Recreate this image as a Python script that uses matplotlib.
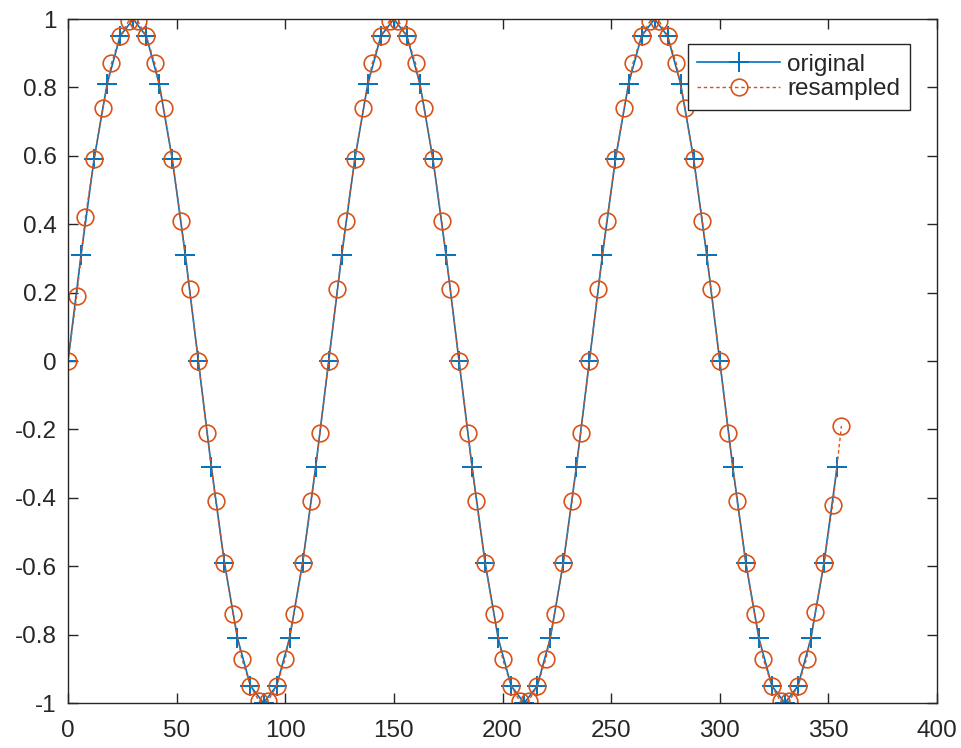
import matplotlib
matplotlib.use("Agg")
import matplotlib.pyplot as plt

plt.rcParams['font.family'] = ['Liberation Sans', 'DejaVu Sans']

# original samples (every 6 units)
x_orig = [0, 6, 12, 18, 24, 30, 36, 42, 48, 54, 60, 66, 72, 78, 84, 90, 96, 102, 108, 114,
          120, 126, 132, 138, 144, 150, 156, 162, 168, 174, 180, 186, 192, 198, 204, 210, 216, 222, 228, 234,
          240, 246, 252, 258, 264, 270, 276, 282, 288, 294, 300, 306, 312, 318, 324, 330, 336, 342, 348, 354]
y_orig = [0, 0.31, 0.59, 0.81, 0.95, 1.0, 0.95, 0.81, 0.59, 0.31,
          0, -0.31, -0.59, -0.81, -0.95, -1.0, -0.95, -0.81, -0.59, -0.31,
          0, 0.31, 0.59, 0.81, 0.95, 1.0, 0.95, 0.81, 0.59, 0.31,
          0, -0.31, -0.59, -0.81, -0.95, -1.0, -0.95, -0.81, -0.59, -0.31,
          0, 0.31, 0.59, 0.81, 0.95, 1.0, 0.95, 0.81, 0.59, 0.31,
          0, -0.31, -0.59, -0.81, -0.95, -1.0, -0.95, -0.81, -0.59, -0.31]

# resampled (every 4 units)
x_res = [0, 4, 8, 12, 16, 20, 24, 28, 32, 36, 40, 44, 48, 52, 56, 60, 64, 68, 72, 76,
         80, 84, 88, 92, 96, 100, 104, 108, 112, 116, 120, 124, 128, 132, 136, 140, 144, 148, 152, 156,
         160, 164, 168, 172, 176, 180, 184, 188, 192, 196, 200, 204, 208, 212, 216, 220, 224, 228, 232, 236,
         240, 244, 248, 252, 256, 260, 264, 268, 272, 276, 280, 284, 288, 292, 296, 300, 304, 308, 312, 316,
         320, 324, 328, 332, 336, 340, 344, 348, 352, 356]
y_res = [0, 0.19, 0.42, 0.59, 0.74, 0.87, 0.95, 0.995, 0.995, 0.95, 0.87, 0.74, 0.59, 0.41, 0.21,
         0, -0.21, -0.41, -0.59, -0.74, -0.87, -0.95, -0.995, -0.995, -0.95, -0.87, -0.74, -0.59, -0.41, -0.21,
         0, 0.21, 0.41, 0.59, 0.74, 0.87, 0.95, 0.995, 0.995, 0.95, 0.87, 0.74, 0.59, 0.41, 0.21,
         0, -0.21, -0.41, -0.59, -0.74, -0.87, -0.95, -0.995, -0.995, -0.95, -0.87, -0.74, -0.59, -0.41, -0.21,
         0, 0.21, 0.41, 0.59, 0.74, 0.87, 0.95, 0.995, 0.995, 0.95, 0.87, 0.74, 0.59, 0.41, 0.21,
         0, -0.21, -0.41, -0.59, -0.74, -0.87, -0.95, -0.995, -0.995, -0.95, -0.87, -0.735, -0.59, -0.42, -0.19]

x_ticks = [0, 50, 100, 150, 200, 250, 300, 350, 400]
y_ticks = [-1, -0.8, -0.6, -0.4, -0.2, 0, 0.2, 0.4, 0.6, 0.8, 1]
y_ticklabels = ['-1', '-0.8', '-0.6', '-0.4', '-0.2', '0', '0.2', '0.4', '0.6', '0.8', '1']

blue = '#0072BD'
orange = '#D95319'
axc = '#262626'

fig = plt.figure(figsize=(9.62, 7.48), dpi=100)
ax = fig.add_axes([68/962, 1-703/748, (937-68)/962, (703-19)/748])

ax.plot(x_orig, y_orig, '-', color=blue, marker='+', markersize=14, markeredgewidth=1.4,
        linewidth=1.2, label='original')
ax.plot(x_res, y_res, color=orange, marker='o', markersize=12, markerfacecolor='none',
        markeredgewidth=1.2, linewidth=1.0, linestyle=(0, (2.5, 2)), label='resampled')

ax.set_xlim(0, 400)
ax.set_ylim(-1, 1)
ax.set_xticks(x_ticks)
ax.set_xticklabels([str(t) for t in x_ticks])
ax.set_yticks(y_ticks)
ax.set_yticklabels(y_ticklabels)

ax.tick_params(direction='in', length=7, width=1.0, colors=axc, labelsize=17.5,
               top=True, right=True, labelcolor=axc)
ax.tick_params(axis='x', pad=12)
ax.tick_params(axis='y', pad=8)
for s in ax.spines.values():
    s.set_color(axc)
    s.set_linewidth(1.0)

leg = ax.legend(loc='upper right', bbox_to_anchor=((910-68)/(937-68), (703-44)/(703-19)),
                bbox_transform=ax.transAxes,
                fontsize=17.5, frameon=True, fancybox=False, borderpad=0.4, handlelength=3.4,
                handletextpad=0.3, labelspacing=0.1, borderaxespad=0, framealpha=1)
leg.get_frame().set_edgecolor(axc)
leg.get_frame().set_linewidth(1.0)
for t in leg.get_texts():
    t.set_color(axc)

fig.savefig('out.png', dpi=100)
